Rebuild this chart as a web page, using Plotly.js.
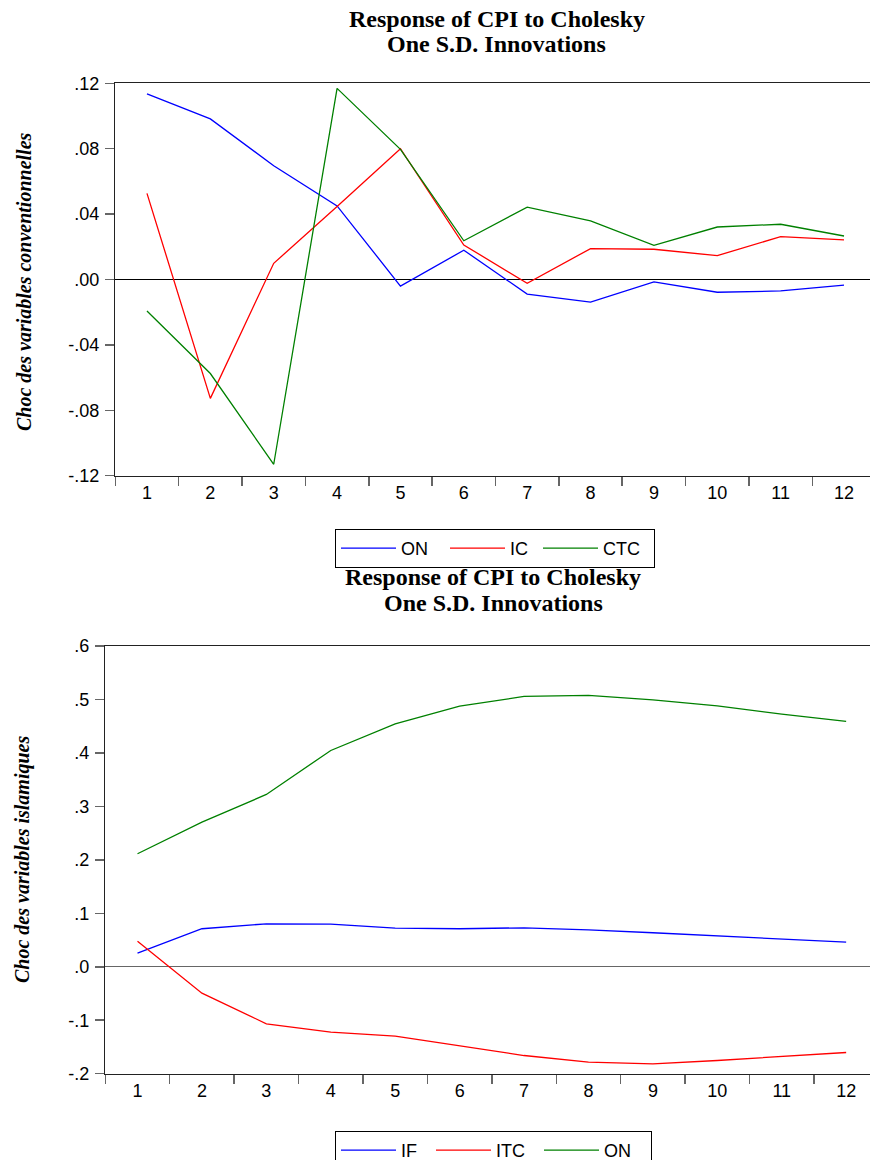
<!DOCTYPE html>
<html>
<head>
<meta charset="utf-8">
<script src="https://cdn.plot.ly/plotly-3.0.1.min.js"></script>
<style>
html,body{margin:0;padding:0;background:#fff;overflow:hidden;}
#chart{width:870px;height:1160px;}
</style>
</head>
<body>
<div id="chart"></div>
<script>
// ---- data ----
const periods = ['1','2','3','4','5','6','7','8','9','10','11','12'];

// Top chart: conventional variables
const topON  = [0.1135, 0.0982, 0.0696, 0.0450, -0.0040, 0.0179, -0.0089, -0.0138, -0.0015, -0.0078, -0.0070, -0.0034];
const topIC  = [0.0527, -0.0727, 0.0099, 0.0446, 0.0800, 0.0211, -0.0023, 0.0189, 0.0185, 0.0146, 0.0262, 0.0242];
const topCTC = [-0.0193, -0.0575, -0.1130, 0.1169, 0.0796, 0.0237, 0.0443, 0.0358, 0.0209, 0.0321, 0.0338, 0.0266];

// Bottom chart: islamic variables
const botIF  = [0.0255, 0.0711, 0.0804, 0.0798, 0.0723, 0.0711, 0.0729, 0.0692, 0.0636, 0.0580, 0.0510, 0.0460];
const botITC = [0.0479, -0.0494, -0.1066, -0.1223, -0.1298, -0.1472, -0.1660, -0.1784, -0.1815, -0.1753, -0.1684, -0.1603];
const botON  = [0.2114, 0.2705, 0.3223, 0.4046, 0.4545, 0.4875, 0.5056, 0.5075, 0.4994, 0.4880, 0.4725, 0.4589];

const topTickVals = [-0.12, -0.08, -0.04, 0, 0.04, 0.08, 0.12];
const topTickText = ['-.12', '-.08', '-.04', '.00', '.04', '.08', '.12'];
const botTickVals = [-0.2, -0.1, 0, 0.1, 0.2, 0.3, 0.4, 0.5, 0.6];
const botTickText = ['-.2', '-.1', '.0', '.1', '.2', '.3', '.4', '.5', '.6'];

const titleLine1 = 'Response of CPI to Cholesky';
const titleLine2 = 'One S.D. Innovations';
const topYTitle = 'Choc des variables conventionnelles';
const botYTitle = 'Choc des variables islamiques';

// ---- styling ----
const W = 870, H = 1160;
const BLUE = '#0000ff', RED = '#ff0000', GREEN = '#008000';
const sans = 'Liberation Sans, Arial, sans-serif';
const serif = 'Liberation Serif, Times New Roman, serif';

function line(x, y, name, color, xa, ya, lg, lw) {
  return {x: x, y: y, name: name, type: 'scatter', mode: 'lines',
          line: {color: color, width: 1.3}, xaxis: xa, yaxis: ya,
          legend: lg, legendwidth: lw};
}

const traces = [
  line(periods, topON,  'ON',  BLUE,  'x',  'y',  'legend', 39),
  line(periods, topIC,  'IC',  RED,   'x',  'y',  'legend', 23),
  line(periods, topCTC, 'CTC', GREEN, 'x',  'y',  'legend', 46),
  line(periods, botIF,  'IF',  BLUE,  'x2', 'y2', 'legend2', 25),
  line(periods, botITC, 'ITC', RED,   'x2', 'y2', 'legend2', 38),
  line(periods, botON,  'ON',  GREEN, 'x2', 'y2', 'legend2', 42)
];

function xAxis(domainLeft, rmax, anchor) {
  return {
    type: 'category', domain: [domainLeft / W, 1], anchor: anchor,
    range: [-0.5, rmax], tickson: 'boundaries',
    ticks: 'outside', ticklen: 9, tickwidth: 1.5, tickcolor: '#666',
    showline: true, linecolor: '#222', linewidth: 1.5, mirror: true,
    showgrid: false, zeroline: false, fixedrange: true,
    tickfont: {family: sans, size: 18, color: '#000'}
  };
}
function yAxis(top, bottom, range, vals, text, anchor, zc) {
  return {
    domain: [1 - bottom / H, 1 - top / H], anchor: anchor,
    range: range, tickmode: 'array', tickvals: vals, ticktext: text,
    ticks: 'outside', ticklen: 9, tickwidth: 1.5, tickcolor: '#666',
    ticklabelstandoff: 2,
    showline: true, linecolor: '#222', linewidth: 1.5, mirror: false,
    showgrid: false, zeroline: true, zerolinecolor: zc, zerolinewidth: 1.2,
    fixedrange: true,
    tickfont: {family: sans, size: 18, color: '#000'}
  };
}

const legendBase = {
  orientation: 'h', xanchor: 'left', yanchor: 'top',
  bordercolor: '#000', borderwidth: 1, bgcolor: 'rgba(255,255,255,0)',
  font: {family: sans, size: 18, color: '#000'}, itemwidth: 55, tracegroupgap: 0
};

const titleFont = {family: serif, size: 24, weight: 'bold', color: '#000'};
const yTitleFont = {family: serif, size: 20, weight: 'bold', style: 'italic', color: '#000'};

function ann(text, x, y, font, angle) {
  return {text: text, xref: 'paper', yref: 'paper', x: x / W, y: 1 - y / H,
          xanchor: 'center', yanchor: 'middle', showarrow: false,
          textangle: angle || 0, font: font};
}

const layout = {
  width: W, height: H,
  margin: {l: 0, r: 0, t: 0, b: 0, autoexpand: false},
  paper_bgcolor: '#fff', plot_bgcolor: '#fff',
  showlegend: true,
  xaxis: xAxis(115.3, 11.41, 'y'),
  yaxis: yAxis(83.3, 475.7, [-0.12, 0.12], topTickVals, topTickText, 'x', '#000'),
  xaxis2: xAxis(105.3, 11.37, 'y2'),
  yaxis2: yAxis(646, 1073.7, [-0.2, 0.6], botTickVals, botTickText, 'x2', '#666'),
  legend: Object.assign({}, legendBase, {x: 335 / W, y: 1 - 529 / H}),
  legend2: Object.assign({}, legendBase, {x: 335 / W, y: 1 - 1131 / H}),
  annotations: [
    ann(titleLine1, 497, 19, titleFont),
    ann(titleLine2, 497, 44, titleFont),
    ann(titleLine1, 493, 577, titleFont),
    ann(titleLine2, 493, 603, titleFont),
    ann(topYTitle, 24, 282, yTitleFont, -90),
    ann(botYTitle, 22, 860, yTitleFont, -90)
  ]
};

Plotly.newPlot('chart', traces, layout, {staticPlot: true, displayModeBar: false});
</script>
</body>
</html>
